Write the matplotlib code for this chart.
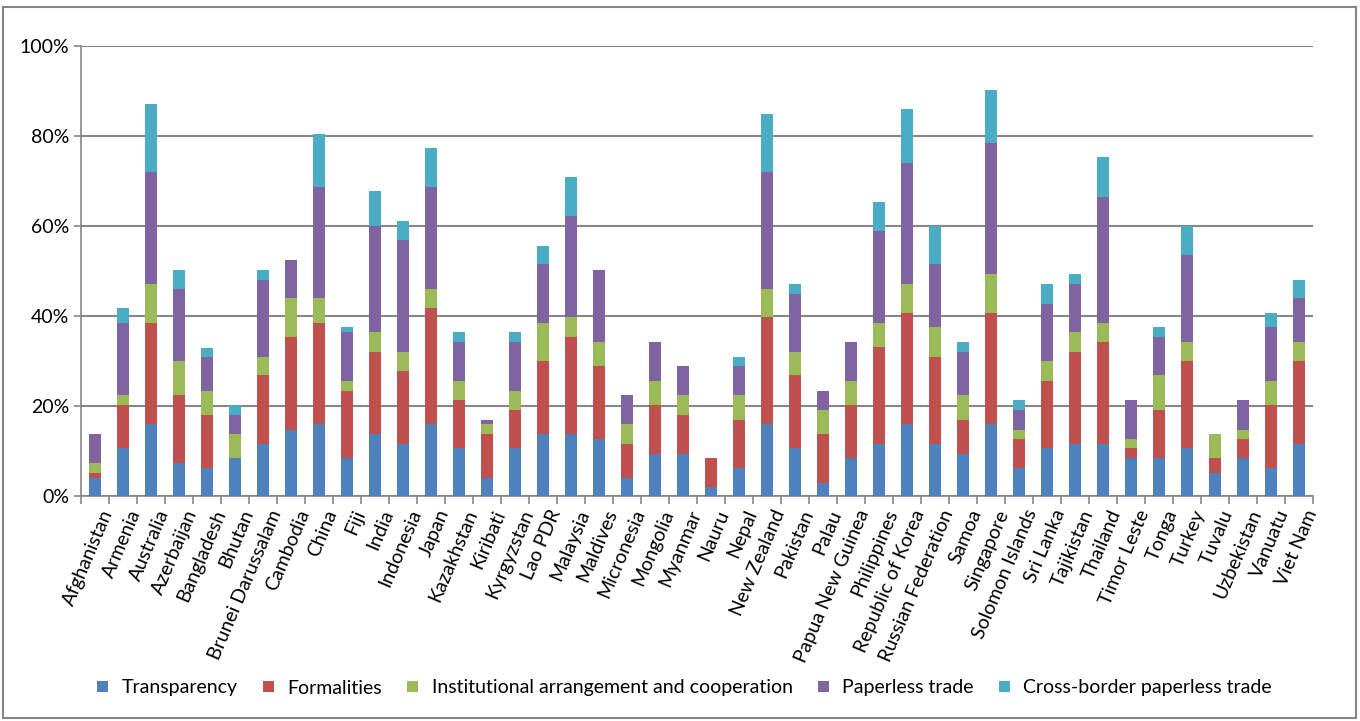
import matplotlib.pyplot as plt
import numpy as np
from matplotlib.patches import Rectangle
from matplotlib.ticker import PercentFormatter

countries = ['Afghanistan', 'Armenia', 'Australia', 'Azerbaijan', 'Bangladesh', 'Bhutan',
             'Brunei Darussalam', 'Cambodia', 'China', 'Fiji', 'India', 'Indonesia', 'Japan',
             'Kazakhstan', 'Kiribati', 'Kyrgyzstan', 'Lao PDR', 'Malaysia', 'Maldives',
             'Micronesia', 'Mongolia', 'Myanmar', 'Nauru', 'Nepal', 'New Zealand', 'Pakistan',
             'Palau', 'Papua New Guinea', 'Philippines', 'Republic of Korea',
             'Russian Federation', 'Samoa', 'Singapore', 'Solomon Islands', 'Sri Lanka',
             'Tajikistan', 'Thailand', 'Timor Leste', 'Tonga', 'Turkey', 'Tuvalu',
             'Uzbekistan', 'Vanuatu', 'Viet Nam']

# segment values (%)
transparency = [4.0, 10.6, 15.9, 7.3, 6.2, 8.4, 11.6, 14.7, 15.9, 8.4, 13.7, 11.6, 15.9,
                10.6, 4.0, 10.6, 13.7, 13.7, 12.7, 4.0, 9.4, 9.4, 1.9, 6.2, 15.9, 10.6,
                3.0, 8.4, 11.6, 15.9, 11.6, 9.4, 15.9, 6.2, 10.6, 11.6, 11.6, 8.4, 8.4,
                10.6, 5.2, 8.4, 6.2, 11.6]
formalities = [1.2, 9.6, 22.5, 15.1, 11.9, 0.0, 15.2, 20.6, 22.5, 15.0, 18.4, 16.2, 25.9,
               10.7, 9.7, 8.5, 16.2, 21.6, 16.1, 7.6, 10.8, 8.7, 6.5, 10.8, 23.8, 16.2,
               10.7, 11.8, 21.5, 24.8, 19.4, 7.6, 24.8, 6.5, 15.0, 20.5, 22.6, 2.2, 10.7,
               19.3, 3.2, 4.3, 14.0, 18.3]
institutional = [2.1, 2.2, 8.7, 7.5, 5.3, 5.3, 4.2, 8.7, 5.6, 2.2, 4.3, 4.3, 4.3, 4.3,
                 2.2, 4.3, 8.5, 4.4, 5.4, 4.3, 5.4, 4.3, 0.0, 5.4, 6.4, 5.3, 5.4, 5.4,
                 5.3, 6.4, 6.5, 5.4, 8.6, 2.0, 4.3, 4.3, 4.2, 2.1, 7.7, 4.3, 5.3, 2.0,
                 5.4, 4.3]
paperless = [6.4, 16.0, 24.8, 16.2, 7.4, 4.4, 17.1, 8.4, 24.7, 10.8, 23.6, 24.7, 22.6,
             8.6, 1.1, 10.8, 13.1, 22.5, 16.1, 6.5, 8.6, 6.4, 0.0, 6.4, 25.8, 12.9, 4.3,
             8.6, 20.6, 26.9, 14.0, 9.7, 29.1, 4.4, 12.8, 10.7, 28.1, 8.6, 8.5, 19.4,
             0.0, 6.6, 11.9, 9.8]
cross_border = [0.0, 3.4, 15.2, 4.2, 2.2, 2.1, 2.2, 0.0, 11.8, 1.1, 7.7, 4.4, 8.7, 2.2,
                0.0, 2.2, 4.1, 8.7, 0.0, 0.0, 0.0, 0.0, 0.0, 2.2, 13.1, 2.1, 0.0, 0.0,
                6.3, 11.9, 8.5, 2.1, 11.8, 2.2, 4.4, 2.2, 8.8, 0.0, 2.2, 6.4, 0.0, 0.0,
                3.2, 4.1]

series = [('Transparency', transparency, '#4F81BD'),
          ('Formalities', formalities, '#C0504D'),
          ('Institutional arrangement and cooperation', institutional, '#9BBB59'),
          ('Paperless trade', paperless, '#8064A2'),
          ('Cross-border paperless trade', cross_border, '#4BACC6')]

plt.rcParams['font.family'] = ['Lato', 'DejaVu Sans']

W, H = 1360, 721
fig = plt.figure(figsize=(W / 100, H / 100), dpi=100)
ax = fig.add_axes([81 / W, 1 - 496 / H, 1232 / W, 450 / H])

x = np.arange(len(countries))
bottom = np.zeros(len(countries))
for name, vals, col in series:
    vals = np.array(vals)
    ax.bar(x, vals, width=0.4, bottom=bottom, color=col, label=name, zorder=3)
    bottom += vals

ax.set_xlim(-0.5, len(countries) - 0.5)
ax.set_ylim(0, 100)
ax.set_yticks(range(0, 101, 20))
ax.yaxis.set_major_formatter(PercentFormatter(decimals=0))
ax.yaxis.grid(True, color='#868686', linewidth=1.5, zorder=0)

for s in ['top', 'right']:
    ax.spines[s].set_visible(False)
for s in ['left', 'bottom']:
    ax.spines[s].set_color('#868686')
    ax.spines[s].set_linewidth(1.2)

# category separators as ticks on the x axis
ax.set_xticks(np.arange(-0.5, len(countries)), minor=False)
ax.set_xticklabels([])
ax.set_xticks(x + 0.2, minor=True)
ax.set_xticklabels(countries, minor=True, rotation=67, ha='right', va='top',
                   rotation_mode='anchor', fontsize=14)
ax.tick_params(axis='x', which='major', length=6, color='#868686', width=1.2)
ax.tick_params(axis='x', which='minor', length=0, pad=8)
ax.tick_params(axis='y', length=5, color='#868686', width=1.2, labelsize=14)

ax.legend(loc='center', bbox_to_anchor=(0.49, (496 - 688) / 450),
          ncol=5, frameon=False, fontsize=14, handlelength=0.55, handleheight=0.55,
          handletextpad=0.7, columnspacing=1.3)

# outer frame
fig.patches.append(Rectangle((3 / W, 3 / H), 1353 / W, 711 / H,
                             transform=fig.transFigure, fill=False,
                             edgecolor='#868686', linewidth=1.5))

fig.savefig('out.png', dpi=100)
